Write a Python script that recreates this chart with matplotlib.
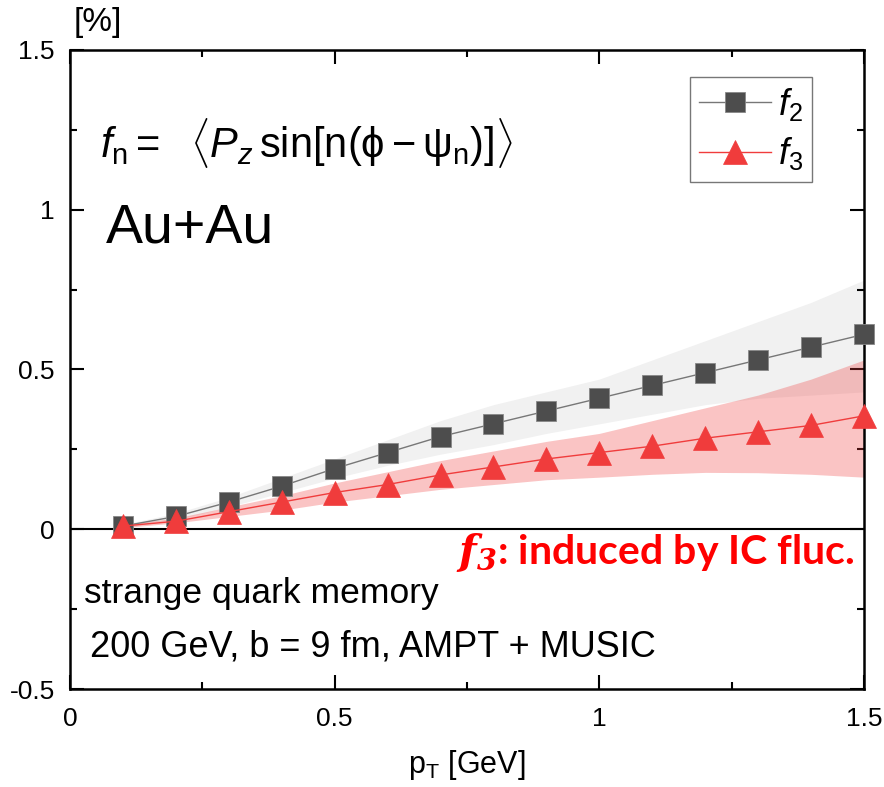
import matplotlib
matplotlib.use("Agg")
import matplotlib.pyplot as plt
from matplotlib.ticker import MultipleLocator, FixedLocator

plt.rcParams["font.family"] = ["Liberation Sans", "DejaVu Sans"]
plt.rcParams["mathtext.fontset"] = "custom"
plt.rcParams["mathtext.rm"] = "Liberation Sans"
plt.rcParams["mathtext.it"] = "Liberation Sans:italic"
plt.rcParams["mathtext.bf"] = "Liberation Sans:bold"

# data
pt = [0.1, 0.2, 0.3, 0.4, 0.5, 0.6, 0.7, 0.8, 0.9, 1.0, 1.1, 1.2, 1.3, 1.4, 1.5]
f2 = [0.01, 0.04, 0.085, 0.135, 0.19, 0.24, 0.29, 0.33, 0.37, 0.41, 0.45, 0.49, 0.53, 0.57, 0.61]
f2_lo = [0.005, 0.03, 0.07, 0.115, 0.16, 0.20, 0.235, 0.265, 0.30, 0.33, 0.36, 0.39, 0.41, 0.42, 0.43]
f2_hi = [0.015, 0.05, 0.10, 0.16, 0.22, 0.28, 0.34, 0.39, 0.43, 0.47, 0.53, 0.59, 0.65, 0.71, 0.78]
f3 = [0.01, 0.025, 0.055, 0.085, 0.115, 0.14, 0.17, 0.195, 0.22, 0.24, 0.26, 0.285, 0.305, 0.325, 0.355]
f3_lo = [0.005, 0.02, 0.04, 0.06, 0.085, 0.105, 0.125, 0.14, 0.155, 0.163, 0.172, 0.178, 0.177, 0.172, 0.163]
f3_hi = [0.015, 0.035, 0.07, 0.105, 0.145, 0.18, 0.215, 0.245, 0.275, 0.30, 0.34, 0.38, 0.42, 0.47, 0.53]

x_ticks = [0, 0.5, 1, 1.5]
x_tick_labels = ["0", "0.5", "1", "1.5"]
y_ticks = [-0.5, 0, 0.5, 1, 1.5]
y_tick_labels = ["-0.5", "0", "0.5", "1", "1.5"]

gray = "#4d4d4d"
red = "#f03c3c"

fig = plt.figure(figsize=(8.84, 7.87), dpi=100)
ax = fig.add_axes([0.0792, 0.1245, 0.8982, 0.812])

ax.fill_between(pt, f2_lo, f2_hi, color="#f1f1f1", lw=0, zorder=1)
ax.fill_between(pt, f3_lo, f3_hi, color=red, alpha=0.3, lw=0, zorder=2)
ax.axhline(0, color="black", lw=1.5, zorder=3)

ax.plot(pt, f2, color="#777777", lw=1, marker="s", ms=14, mfc=gray, mec="#888888",
        mew=0.6, label="$f_2$", zorder=5, clip_on=False)
ax.plot(pt, f3, color=red, lw=1, marker="^", ms=17, mfc=red, mec=red,
        mew=0.5, label="$f_3$", zorder=6, clip_on=False)

ax.set_xlim(0, 1.5)
ax.set_ylim(-0.5, 1.5)
ax.xaxis.set_major_locator(FixedLocator(x_ticks))
ax.set_xticklabels(x_tick_labels, fontsize=19)
ax.yaxis.set_major_locator(FixedLocator(y_ticks))
ax.set_yticklabels(y_tick_labels, fontsize=19)
ax.xaxis.set_minor_locator(MultipleLocator(0.25))
ax.yaxis.set_minor_locator(MultipleLocator(0.25))
ax.tick_params(which="both", direction="in", top=True, right=True, width=1.5)
ax.tick_params(axis="x", pad=13)
ax.tick_params(axis="y", pad=11)
ax.tick_params(which="major", length=10)
ax.tick_params(which="minor", length=5)
for s in ax.spines.values():
    s.set_linewidth(1.8)

ax.set_xlabel(r"p$_\mathrm{T}$ [GeV]", fontsize=22, labelpad=12)
fig.text(0.083, 0.952, "[%]", fontsize=24, ha="left", va="bottom")

leg = ax.legend(loc="upper right", bbox_to_anchor=(0.935, 0.958), fontsize=26,
                frameon=True, fancybox=False, edgecolor="#555555", handlelength=2.0,
                handletextpad=0.2, borderpad=0.25, labelspacing=0.35,
                borderaxespad=0)
leg.get_frame().set_linewidth(1.0)

ax.text(0.038, 0.855,
        r"$\mathit{f}_\mathrm{n} = \ \ \langle \mathit{P}_\mathit{z}\,\mathrm{sin}[\mathrm{n}(\mathrm{\phi} - \mathrm{\psi}_\mathrm{n})]\rangle$",
        transform=ax.transAxes, fontsize=30, ha="left", va="center")
ax.text(0.045, 0.72, "Au+Au", transform=ax.transAxes, fontsize=40, ha="left", va="center")
ax.text(0.988, 0.213, r"$\mathbfit{f}_{\mathbfit{3}}$: induced by IC fluc.",
        transform=ax.transAxes, fontsize=29.5, ha="right", va="center", color="#ff0000",
        family="Lato", weight="bold", math_fontfamily="dejavuserif")
ax.text(0.018, 0.15, "strange quark memory", transform=ax.transAxes, fontsize=25.5,
        ha="left", va="center")
ax.text(0.025, 0.066, "200 GeV, b = 9 fm, AMPT + MUSIC", transform=ax.transAxes,
        fontsize=26, ha="left", va="center")

fig.savefig("out.png", dpi=100)
